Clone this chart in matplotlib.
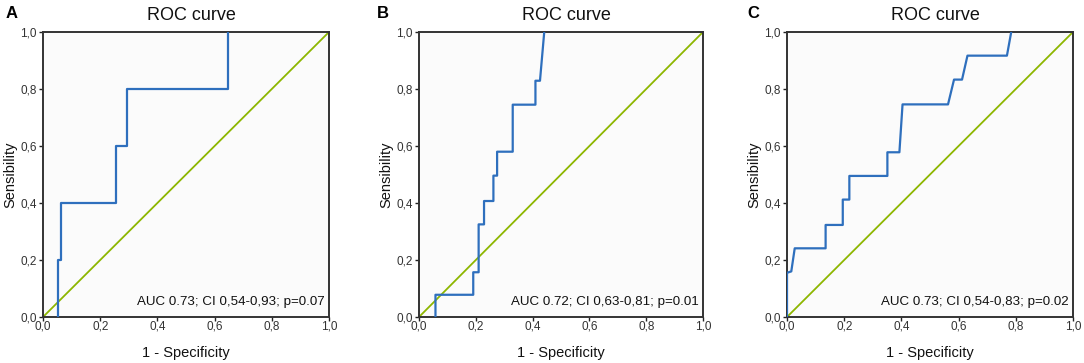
import numpy as np
import matplotlib.pyplot as plt

plt.rcParams['font.family'] = ['Liberation Sans', 'DejaVu Sans']

# ROC step curves (1 - specificity, sensitivity)
fpr_a = [0.052, 0.052, 0.064, 0.064, 0.256, 0.256, 0.293, 0.293, 0.648, 0.648]
tpr_a = [0.0, 0.2, 0.2, 0.4, 0.4, 0.6, 0.6, 0.8, 0.8, 1.0]

fpr_b = [0.058, 0.058, 0.191, 0.191, 0.210, 0.210, 0.229, 0.229, 0.262, 0.262,
         0.275, 0.275, 0.330, 0.330, 0.410, 0.410, 0.426, 0.441]
tpr_b = [0.0, 0.078, 0.078, 0.157, 0.157, 0.325, 0.325, 0.407, 0.407, 0.496,
         0.496, 0.580, 0.580, 0.745, 0.745, 0.829, 0.829, 1.0]

fpr_c = [0.0, 0.0, 0.015, 0.027, 0.135, 0.135, 0.195, 0.195, 0.218, 0.218,
         0.351, 0.351, 0.393, 0.404, 0.563, 0.584, 0.612, 0.631, 0.769, 0.784]
tpr_c = [0.0, 0.155, 0.16, 0.241, 0.241, 0.323, 0.323, 0.412, 0.412, 0.495,
         0.495, 0.578, 0.578, 0.746, 0.746, 0.833, 0.833, 0.917, 0.917, 1.0]

letters = ['A', 'B', 'C']
stats = ['AUC 0.73; CI 0,54-0,93; p=0.07',
         'AUC 0.72; CI 0,63-0,81; p=0.01',
         'AUC 0.73; CI 0,54-0,83; p=0.02']
ticks = [0.0, 0.2, 0.4, 0.6, 0.8, 1.0]
tick_labels = ['0,0', '0,2', '0,4', '0,6', '0,8', '1,0']

curves = [(fpr_a, tpr_a), (fpr_b, tpr_b), (fpr_c, tpr_c)]
lefts = [43, 419, 787]
widths = [286, 284, 286]
letter_x = [6, 377, 747]

fig = plt.figure(figsize=(10.84, 3.63), dpi=100)
W, H = 1084, 363

for i, (fx, ty) in enumerate(curves):
    ax = fig.add_axes([lefts[i] / W, 46 / H, widths[i] / W, 285 / H])
    ax.set_facecolor('#fbfbfb')
    ax.plot([0, 1], [0, 1], color='#8db600', lw=1.3, zorder=2)
    ax.plot(fx, ty, color='#2e6fbd', lw=1.6, zorder=3)
    ax.set_xlim(0, 1)
    ax.set_ylim(0, 1)
    ax.set_xticks(ticks)
    ax.set_xticklabels(tick_labels)
    ax.set_yticks(ticks)
    ax.set_yticklabels(tick_labels)
    ax.tick_params(length=3, width=1, labelsize=8.5, colors='#222222',
                   labelcolor='#333333')
    ax.tick_params(axis='x', pad=-0.5)
    ax.tick_params(axis='y', pad=1.5)
    for sp in ax.spines.values():
        sp.set_linewidth(1.4)
        sp.set_color('#333333')
    ax.set_title('ROC curve', fontsize=13, pad=8.5, color='#111111', x=0.52)
    ax.set_xlabel('1 - Specificity', fontsize=10.5, labelpad=10, color='#111111')
    ax.set_ylabel('Sensibility', fontsize=10.5, labelpad=2, color='#111111')
    ax.text(0.985, 0.03, stats[i], transform=ax.transAxes, ha='right', va='bottom',
            fontsize=9.6, color='#111111')
    fig.text(letter_x[i] / W, 1 - 13 / H, letters[i], fontsize=12,
             fontweight='bold', va='center', ha='left')

fig.savefig('out.png', dpi=100)
